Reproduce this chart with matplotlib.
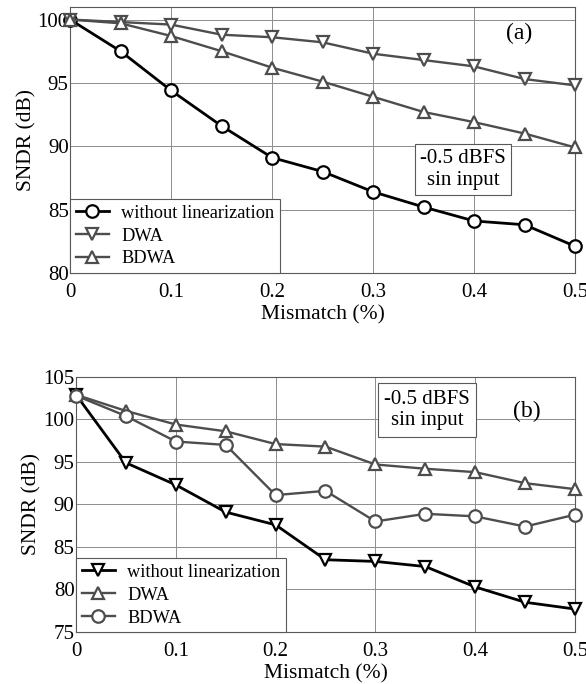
import numpy as np
import matplotlib
matplotlib.use('Agg')
import matplotlib.pyplot as plt

plt.rcParams['font.family'] = ['Liberation Serif', 'DejaVu Serif']

# mismatch values (%)
mismatch = [0, 0.05, 0.1, 0.15, 0.2, 0.25, 0.3, 0.35, 0.4, 0.45, 0.5]

# panel (a)
a_without = [100, 97.5, 94.4, 91.6, 89.1, 88.0, 86.4, 85.2, 84.1, 83.8, 82.1]
a_dwa = [100, 99.8, 99.6, 98.8, 98.6, 98.2, 97.3, 96.8, 96.3, 95.3, 94.8]
a_bdwa = [100, 99.7, 98.7, 97.5, 96.2, 95.1, 93.9, 92.7, 91.9, 91.0, 89.9]

# panel (b)
b_without = [102.9, 94.9, 92.3, 89.1, 87.6, 83.5, 83.3, 82.7, 80.3, 78.5, 77.7]
b_dwa = [102.9, 101.0, 99.4, 98.6, 97.1, 96.8, 94.7, 94.2, 93.8, 92.5, 91.8]
b_bdwa = [102.8, 100.4, 97.4, 97.0, 91.1, 91.6, 88.0, 88.9, 88.6, 87.4, 88.8]

labels = ['without linearization', 'DWA', 'BDWA']
box_text = '-0.5 dBFS\nsin input'

black = 'black'
gray = '0.3'


def style_axes(ax, ylim, yticks):
    ax.set_xlim(0, 0.5)
    ax.set_ylim(*ylim)
    ax.set_xticks(np.arange(0, 0.51, 0.1))
    ax.set_xticklabels(['0', '0.1', '0.2', '0.3', '0.4', '0.5'])
    ax.set_yticks(yticks)
    ax.grid(True, color='0.55', lw=0.7)
    ax.set_axisbelow(True)
    ax.tick_params(length=0, labelsize=15)
    ax.tick_params(axis='x', pad=7)
    ax.tick_params(axis='y', pad=1)
    for s in ax.spines.values():
        s.set_color('0.35')
        s.set_linewidth(0.8)
    ax.set_xlabel('Mismatch (%)', fontsize=15.5, labelpad=2.5)
    ax.set_ylabel('SNDR (dB)', fontsize=15.5, labelpad=1)


def plot_series(ax, y, color, marker, lw, label):
    ax.plot(mismatch, y, color=color, lw=lw, marker=marker, ms=9,
            mfc='white', mec=color, mew=1.6, label=label, clip_on=False, zorder=3)


def add_legend(ax):
    leg = ax.legend(loc='lower left', borderaxespad=0, fancybox=False, fontsize=13.2,
                    edgecolor='0.35', framealpha=1, handlelength=1.8, handletextpad=0.7,
                    labelspacing=0.32, borderpad=0.3)
    leg.get_frame().set_linewidth(0.8)


fig = plt.figure(figsize=(5.86, 6.84), dpi=100)

# ---- panel (a)
ax1 = fig.add_axes([0.1195, 0.601, 0.862, 0.389])
plot_series(ax1, a_without, black, 'o', 2.0, labels[0])
plot_series(ax1, a_dwa, gray, 'v', 1.7, labels[1])
plot_series(ax1, a_bdwa, gray, '^', 1.7, labels[2])
style_axes(ax1, (80, 101), [80, 85, 90, 95, 100])
add_legend(ax1)
ax1.text(0.389, 88.15, box_text, ha='center', va='center', fontsize=15,
         bbox=dict(boxstyle='square,pad=0.25', fc='white', ec='0.35', lw=0.8))
ax1.text(0.445, 98.9, '(a)', ha='center', va='center', fontsize=17)

# ---- panel (b)
ax2 = fig.add_axes([0.1297, 0.076, 0.8515, 0.373])
plot_series(ax2, b_without, black, 'v', 2.0, labels[0])
plot_series(ax2, b_dwa, gray, '^', 1.7, labels[1])
plot_series(ax2, b_bdwa, gray, 'o', 1.7, labels[2])
style_axes(ax2, (75, 105), [75, 80, 85, 90, 95, 100, 105])
add_legend(ax2)
ax2.text(0.352, 101.1, box_text, ha='center', va='center', fontsize=15,
         bbox=dict(boxstyle='square,pad=0.3', fc='white', ec='0.35', lw=0.8))
ax2.text(0.452, 100.9, '(b)', ha='center', va='center', fontsize=17)

fig.savefig('out.png', dpi=100)
